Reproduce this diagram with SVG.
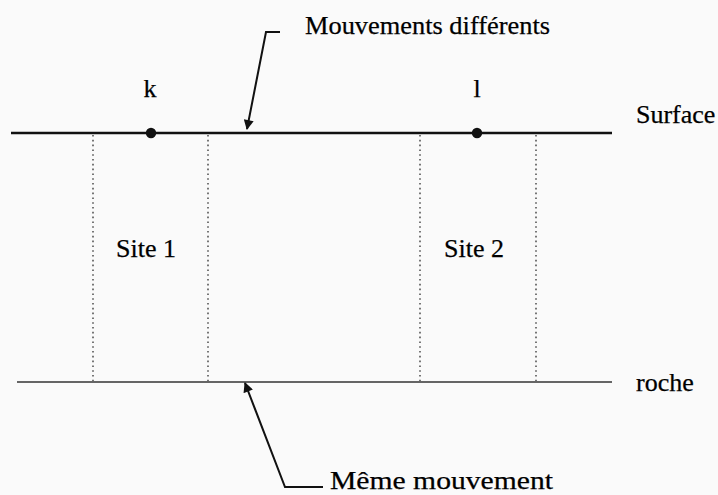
<svg xmlns="http://www.w3.org/2000/svg" width="718" height="495" viewBox="0 0 718 495">
  <style>
    text { font-family: "Liberation Serif", "Times New Roman", serif; font-size: 26px; fill: #000; stroke: #000; stroke-width: 0.25; }
    .surface { stroke: #111; stroke-width: 2.6; fill: none; }
    .rock { stroke: #333; stroke-width: 1.3; fill: none; }
    .bound { stroke: #555; stroke-width: 1.6; stroke-dasharray: 1.6 3.2; fill: none; }
    .lead { stroke: #111; stroke-width: 2; fill: none; }
  </style>
  <defs>
    <marker id="arrow" viewBox="0 0 10 10" refX="9" refY="5" markerWidth="11" markerHeight="10" markerUnits="userSpaceOnUse" orient="auto">
      <path d="M0,0 L10,5 L0,10 Z" fill="#111"/>
    </marker>
  </defs>
  <rect width="718" height="495" fill="#fafafa"/>

  <!-- ground layers -->
  <g id="surface">
    <line class="surface" x1="11" y1="133" x2="612" y2="133"/>
    <text x="636" y="123">Surface</text>
  </g>
  <g id="rock">
    <line class="rock" x1="17" y1="382" x2="612" y2="382"/>
    <text x="636" y="391">roche</text>
  </g>

  <!-- site boundaries -->
  <g id="site1">
    <line class="bound" x1="93" y1="135" x2="93" y2="381"/>
    <line class="bound" x1="208" y1="135" x2="208" y2="381"/>
    <text x="146" y="257" text-anchor="middle">Site 1</text>
  </g>
  <g id="site2">
    <line class="bound" x1="420" y1="135" x2="420" y2="381"/>
    <line class="bound" x1="536" y1="135" x2="536" y2="381"/>
    <text x="474" y="257" text-anchor="middle">Site 2</text>
  </g>

  <!-- surface points -->
  <g id="point-k">
    <circle cx="151" cy="133" r="5.2" fill="#111"/>
    <text x="150" y="97" text-anchor="middle">k</text>
  </g>
  <g id="point-l">
    <circle cx="477" cy="133" r="5.2" fill="#111"/>
    <text x="477" y="97" text-anchor="middle">l</text>
  </g>

  <!-- callout labels -->
  <g id="label-top">
    <text x="305" y="34" textLength="245" lengthAdjust="spacingAndGlyphs">Mouvements différents</text>
  </g>
  <g id="label-bottom">
    <text x="330" y="489" font-size="25" textLength="223" lengthAdjust="spacingAndGlyphs">Même mouvement</text>
  </g>

  <g id="connectors">
    <polyline class="lead" points="280,32 266,32 247,129" marker-end="url(#arrow)"/>
    <polyline class="lead" points="323,487 285,487 245,383" marker-end="url(#arrow)"/>
  </g>
</svg>
